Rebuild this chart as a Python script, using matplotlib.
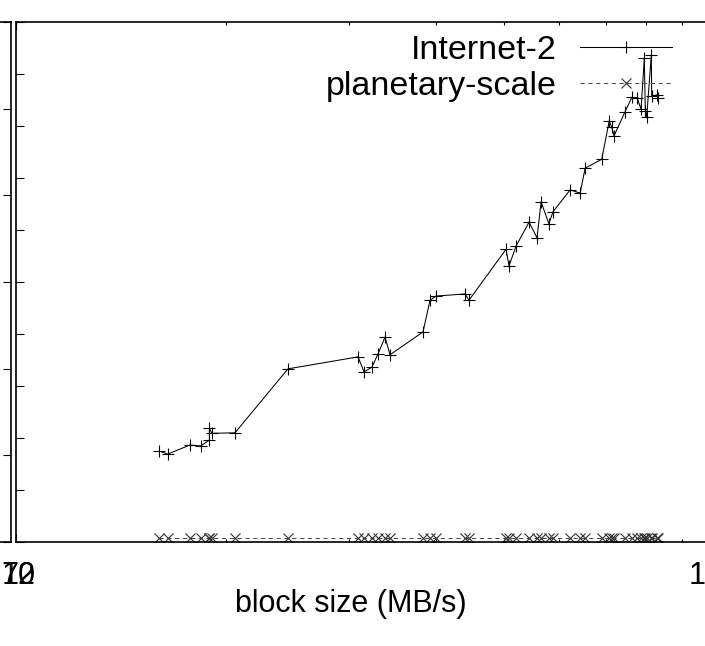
import matplotlib
matplotlib.use("Agg")
import matplotlib.pyplot as plt

plt.rcParams['font.family'] = ['Liberation Sans', 'DejaVu Sans']

# block sizes shared by both runs
block_size = [16.05, 16.52, 17.77, 18.41, 18.95, 18.95, 19.10, 20.62, 24.55,
              30.93, 31.55, 32.39, 33.04, 33.81, 34.37, 38.32, 39.22, 40.00,
              44.01, 44.59, 50.38, 50.88, 52.07, 54.35, 55.80, 56.55, 58.03,
              58.81, 62.23, 64.33, 65.39, 69.07, 70.80, 71.38, 71.93, 74.58,
              76.25, 77.67, 78.63, 79.47, 79.74, 80.11, 81.33, 81.44, 82.79,
              83.23]

internet2 = [17.5, 16.9, 18.65, 18.46, 19.6, 21.9, 20.9, 21.0, 33.3,
             35.6, 32.7, 33.65, 36.2, 39.4, 36.0, 40.4, 46.5, 47.3,
             47.7, 46.5, 56.3, 53.1, 56.9, 61.5, 58.5, 65.4, 61.2,
             63.5, 67.7, 67.1, 71.9, 73.6, 81.0, 79.75, 78.1, 82.75,
             85.5, 85.3, 83.2, 93.0, 82.9, 81.8, 93.7, 85.8, 85.96,
             85.3]

planetary = [0.8, 0.8, 0.8, 0.8, 0.8, 0.8, 0.8, 0.8, 0.8,
             0.8, 0.8, 0.8, 0.8, 0.8, 0.8, 0.8, 0.8, 0.8,
             0.8, 0.8, 0.8, 0.8, 0.8, 0.8, 0.8, 0.8, 0.8,
             0.8, 0.8, 0.8, 0.8, 0.8, 0.8, 0.8, 0.8, 0.8,
             0.8, 0.8, 0.8, 0.8, 0.8, 0.8, 0.8, 0.8, 0.8,
             0.8]

xtick_vals = [10, 10, 100]
xtick_text = ['10', '72', '100']

W, H = 705, 646
fig = plt.figure(figsize=(W / 100, H / 100), dpi=100)

# panel to the left, only its right edge shows
ax0 = fig.add_axes([-0.5, (H - 542) / H, 0.5 + 11 / W, 520 / H])
ax0.set_xlim(0, 1)
ax0.set_ylim(0, 6)
ax0.set_yticks(range(7))
ax0.set_xticks([])
ax0.yaxis.tick_right()
ax0.tick_params(axis='y', direction='in', length=5.8, width=0.8,
                labelright=False, right=True)
for s in ax0.spines.values():
    s.set_linewidth(1.2)

# main panel
ax = fig.add_axes([15.5 / W, (H - 542) / H, (714 - 15.5) / W, 520 / H])
ax.plot(block_size, internet2, color='black', lw=0.75, marker='+',
        ms=8, mew=0.8, label='Internet-2')
ax.plot(block_size, planetary, color='#4d4d4d', lw=0.75,
        linestyle=(0, (4, 3.5)), marker='x', ms=6.5, mew=0.8,
        mec='#333333', label='planetary-scale')

ax.set_xscale('log')
ax.set_xlim(10, 100)
ax.set_ylim(0, 100)
ax.set_yticks(range(0, 101, 10))
ax.set_yticklabels([])
ax.set_xticks([10, 100])
ax.set_xticklabels([])
ax.tick_params(axis='y', which='both', direction='in', length=5.8,
               width=0.8, left=True, right=True)
ax.tick_params(axis='x', which='major', direction='in', length=5.8,
               width=0.8, top=True, bottom=True)
ax.tick_params(axis='x', which='minor', direction='in', length=2.5,
               width=0.8, top=True, bottom=True, labelbottom=False)
for s in ax.spines.values():
    s.set_linewidth(1.2)

# tick labels, the two at the left edge print on top of each other
for v, t in zip(xtick_vals, xtick_text):
    dx = 2.2 if v == 10 else 0
    ax.annotate(t, xy=(v, 0), xycoords=('data', 'axes fraction'),
                xytext=(dx, -14), textcoords='offset points',
                ha='center', va='top', fontsize=22)

fig.text(351 / W, (H - 612) / H, 'block size (MB/s)', ha='center',
         va='baseline', fontsize=22)

ax.legend(loc='upper right', bbox_to_anchor=(672 / W, (H - 35) / H),
          bbox_transform=fig.transFigure, frameon=False, markerfirst=False,
          numpoints=1, fontsize=24.5, handlelength=2.7, handletextpad=0.68,
          borderpad=0, borderaxespad=0, labelspacing=0.15)

fig.savefig('out.png', dpi=100)
